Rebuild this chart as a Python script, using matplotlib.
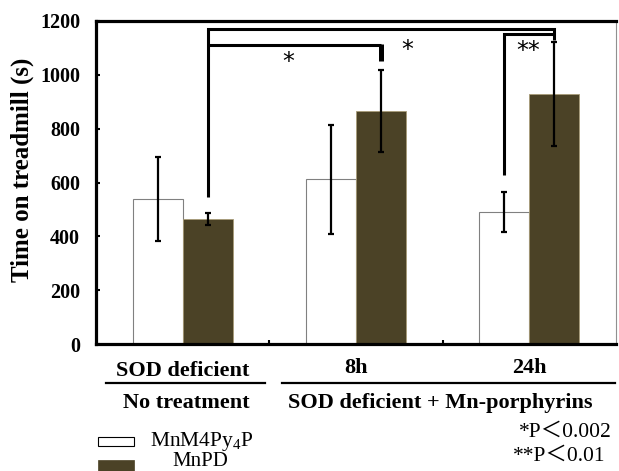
import matplotlib
matplotlib.use('Agg')
import matplotlib.pyplot as plt
from matplotlib.patches import Rectangle
import numpy as np

plt.rcParams['font.family'] = ['Liberation Serif', 'Noto Sans CJK JP']
plt.rcParams['mathtext.fontset'] = 'custom'
plt.rcParams['mathtext.rm'] = 'Liberation Serif'

# data
groups = ['SOD deficient', '8h', '24h']
series_names = ['MnM4Py4P', 'MnPD']
mnm4py4p = [538, 612, 490]
mnm4py4p_err = [155, 202, 73]
mnpd = [463, 866, 928]
mnpd_err = [22, 152, 193]
yticks = [0, 200, 400, 600, 800, 1000, 1200]

# significance brackets: top level and end heights
bracket_levels = [1169, 1109, 1150]
bracket_ends = [(547, 1130), (None, 1050), (628, None)]
star_labels = ['*', '*', '**']
star_x = [0.608, 1.294, 1.992]
star_y = [1048, 1092, 1088]

DARK = '#4b4226'

fig = plt.figure(figsize=(6.19, 4.71), dpi=100)
ax = fig.add_axes([96 / 619, 1 - 344 / 471, 520 / 619, 323 / 471])

x = np.arange(len(groups))
w = 0.2885
ax.bar(x - w / 2, mnm4py4p, w, color='white', edgecolor='#808080', linewidth=0.8, zorder=2)
ax.bar(x + w / 2, mnpd, w, color=DARK, edgecolor='#a89c78', linewidth=0.6, zorder=2)
ax.errorbar(x - w / 2, mnm4py4p, yerr=mnm4py4p_err, fmt='none', ecolor='black',
            elinewidth=1.6, capsize=2.5, capthick=1.6, zorder=3)
ax.errorbar(x + w / 2, mnpd, yerr=mnpd_err, fmt='none', ecolor='black',
            elinewidth=1.6, capsize=2.5, capthick=1.6, zorder=3)

ax.set_xlim(-0.5, 2.5)
ax.set_ylim(0, 1200)
ax.set_yticks(yticks)
ax.set_yticklabels([str(t) for t in yticks], fontsize=14.5, fontweight='bold')
ax.tick_params(axis='y', direction='in', length=3, width=1.5, pad=11.5)
ax.set_xticks([0.5, 1.5])
ax.set_xticklabels([])
ax.tick_params(axis='x', direction='in', length=3, width=1.5)

for s in ['left', 'bottom', 'top']:
    ax.spines[s].set_linewidth(2.3)
    ax.spines[s].set_color('black')
ax.spines['right'].set_linewidth(0.8)
ax.spines['right'].set_color('#909090')

ax.set_ylabel('Time on treadmill (s)', fontsize=18, fontweight='bold')
ax.yaxis.set_label_coords(-0.119, 0.539)

# brackets
lw = 2.2
xd = [x[0] + w / 2, x[2] + w / 2]
ax.plot([xd[0], xd[0], xd[1], xd[1]],
        [bracket_ends[0][0], bracket_levels[0], bracket_levels[0], bracket_ends[0][1]],
        color='black', lw=lw, solid_capstyle='butt', solid_joinstyle='miter', zorder=4)
ax.plot([xd[0], x[1] + w / 2],
        [bracket_levels[1], bracket_levels[1]],
        color='black', lw=lw, solid_capstyle='butt', zorder=4)
ax.plot([x[1] + w / 2] * 2, [bracket_levels[1] + 5, bracket_ends[1][1]],
        color='black', lw=3.6, solid_capstyle='butt', zorder=4)
ax.plot([x[2] - w / 2, x[2] - w / 2, x[2] + w / 2],
        [bracket_ends[2][0], bracket_levels[2], bracket_levels[2]],
        color='black', lw=lw, solid_capstyle='butt', solid_joinstyle='miter', zorder=4)

for sx, sy, lab in zip(star_x, star_y, star_labels):
    ax.text(sx, sy, lab, fontsize=17, family='DejaVu Sans', ha='center', va='center',
            zorder=5)

# x labels
tr = ax.get_xaxis_transform()
ax.text(0, -0.083, 'SOD deficient', transform=tr, fontsize=16, fontweight='bold',
        ha='center', va='center')
ax.text(1, -0.074, '8h', transform=tr, fontsize=16, fontweight='bold', ha='center', va='center')
ax.text(2, -0.074, '24h', transform=tr, fontsize=16, fontweight='bold', ha='center', va='center')
ax.plot([-0.442, 0.475], [-0.121, -0.121], transform=tr, color='black', lw=1.6, clip_on=False)
ax.plot([0.573, 2.494], [-0.121, -0.121], transform=tr, color='black', lw=1.6, clip_on=False)
ax.text(0.02, -0.183, 'No treatment', transform=tr, fontsize=16, fontweight='bold',
        ha='center', va='center')
ax.text(1.485, -0.183, 'SOD deficient + Mn-porphyrins', transform=tr, fontsize=16,
        fontweight='bold', ha='center', va='center')

# legend
fig.patches.append(Rectangle((98 / 619, 1 - 446 / 471), 36 / 619, 9 / 471, transform=fig.transFigure,
                             facecolor='white', edgecolor='black', linewidth=0.8))
fig.patches.append(Rectangle((98 / 619, 1 - 471 / 471), 36 / 619, 11 / 471, transform=fig.transFigure,
                             facecolor=DARK, edgecolor=DARK, linewidth=0.5))
fig.text(202 / 619, 1 - 446 / 471, r'MnM4Py$_{\mathrm{4}}$P', fontsize=15.5, ha='center', va='baseline')
fig.text(200 / 619, 1 - 466 / 471, 'MnPD', fontsize=15, ha='center', va='baseline')

fig.text(612 / 619, 1 - 432 / 471, '*P＜0.002', fontsize=15.5, ha='right', va='center')
fig.text(605 / 619, 1 - 456 / 471, '**P＜0.01', fontsize=15.5, ha='right', va='center')

fig.savefig('out.png', dpi=100)
